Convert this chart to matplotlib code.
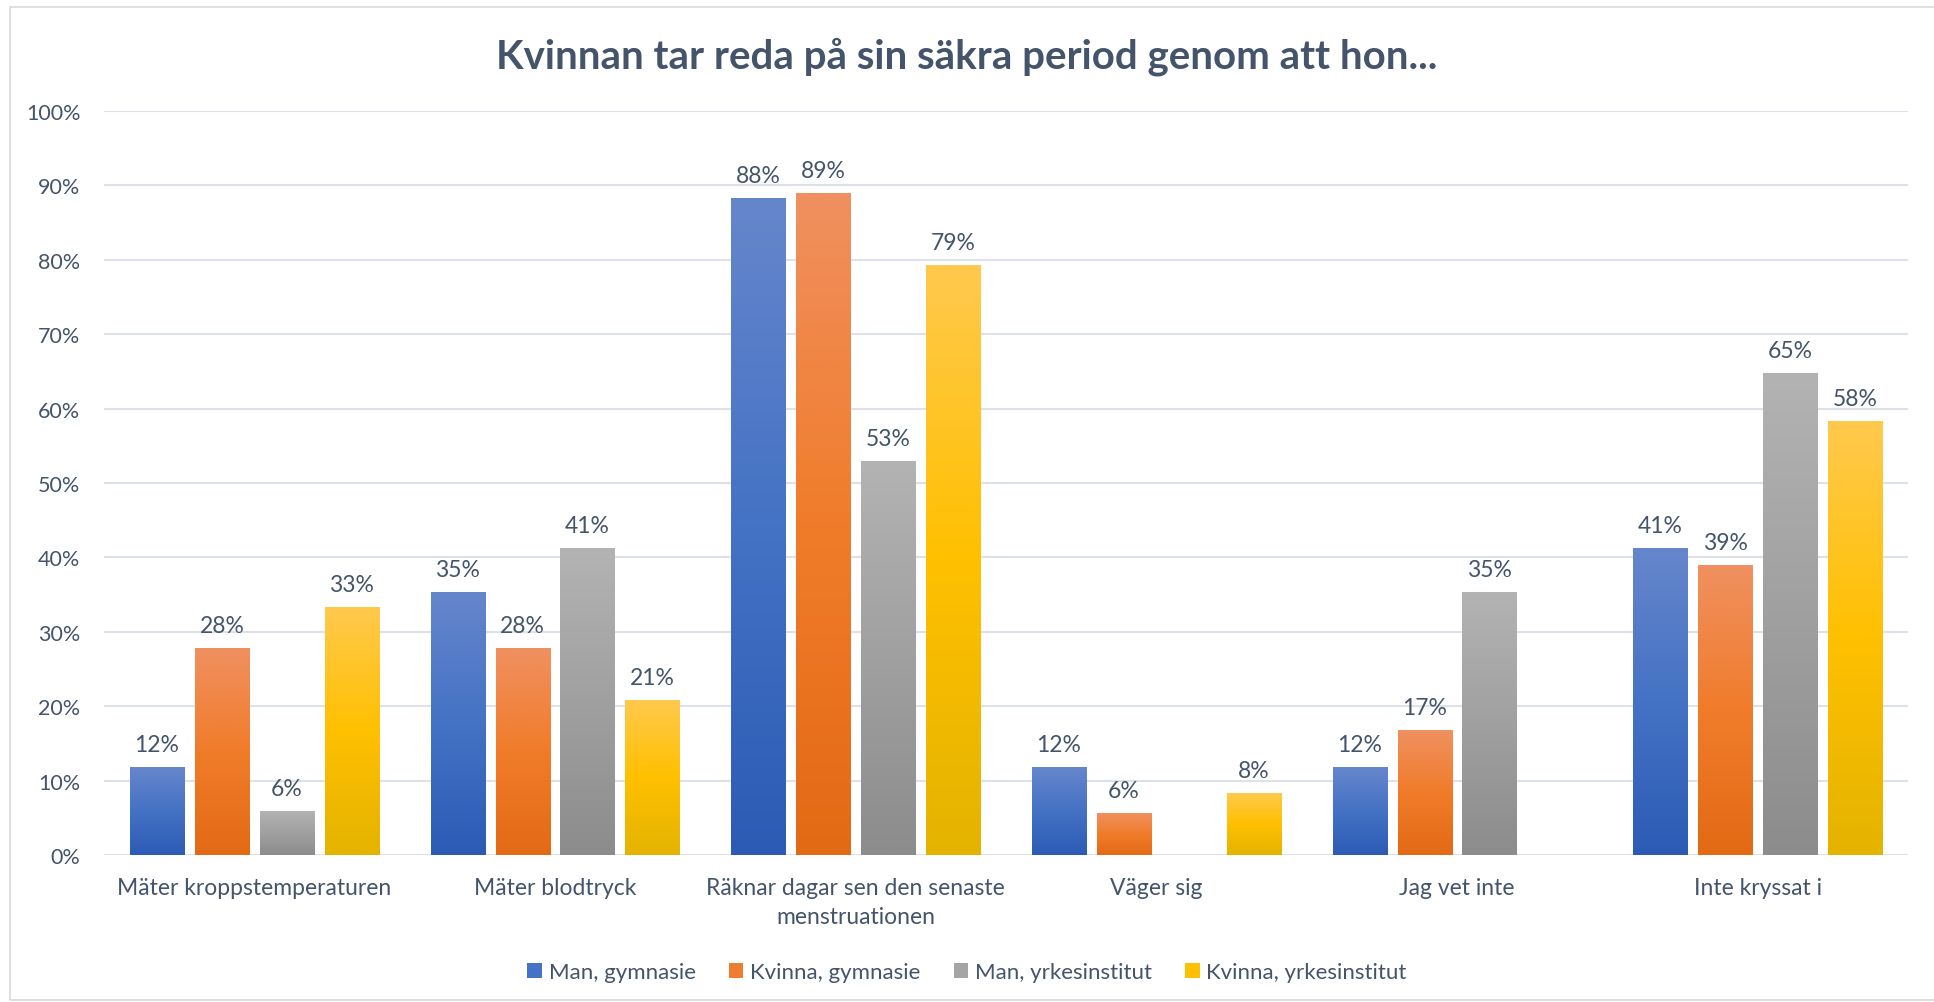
import numpy as np
import matplotlib.pyplot as plt
from matplotlib.colors import LinearSegmentedColormap
from matplotlib.patches import Patch, Rectangle

plt.rcParams['font.family'] = ['Lato', 'DejaVu Sans']

categories = ["Mäter kroppstemperaturen", "Mäter blodtryck",
              "Räknar dagar sen den senaste\nmenstruationen", "Väger sig",
              "Jag vet inte", "Inte kryssat i"]
series = ["Man, gymnasie", "Kvinna, gymnasie", "Man, yrkesinstitut", "Kvinna, yrkesinstitut"]
man_gymnasie = [11.7, 35.3, 88.2, 11.7, 11.7, 41.2]
kvinna_gymnasie = [27.8, 27.8, 88.9, 5.6, 16.7, 38.9]
man_yrkes = [5.9, 41.2, 52.9, None, 35.3, 64.7]
kvinna_yrkes = [33.3, 20.8, 79.2, 8.3, None, 58.3]
values = [man_gymnasie, kvinna_gymnasie, man_yrkes, kvinna_yrkes]

# top, middle, bottom colours of the gradient fill
grads = [("#6686cc", "#4472c4", "#2c5bb5"),
         ("#f09060", "#f07c2a", "#e36a15"),
         ("#b3b3b3", "#a0a0a0", "#8c8c8c"),
         ("#ffc94d", "#ffc000", "#e4b300")]
solid = ["#4472c4", "#ed7d31", "#a5a5a5", "#ffc000"]
txt = "#44546a"

fig = plt.figure(figsize=(19.34, 10.03), dpi=100)
fig.patches.append(Rectangle((0.005, 0.002), 1.2, 0.99, transform=fig.transFigure,
                             fill=False, edgecolor="#d9d9d9", linewidth=1.2))
ax = fig.add_axes([0.0538, 0.1466, 0.9328, 0.7417])

x = np.arange(len(categories))
w = 0.18
step = 0.216
for i, vals in enumerate(values):
    cmap = LinearSegmentedColormap.from_list("g%d" % i, grads[i][::-1])
    grad = np.linspace(1, 0, 256).reshape(-1, 1)
    for j, v in enumerate(vals):
        if v is None:
            continue
        xc = x[j] + (i - 1.5) * step
        ax.imshow(grad, cmap=cmap, extent=(xc - w / 2, xc + w / 2, 0, v),
                  aspect='auto', zorder=3, interpolation='bilinear')
        ax.annotate("%d%%" % round(v), (xc, v), xytext=(0, 9), textcoords='offset points',
                    ha='center', va='bottom', fontsize=16.5, color=txt)

ax.set_xlim(-0.5, len(categories) - 0.5)
ax.set_ylim(0, 100)
ax.set_yticks(range(0, 101, 10))
ax.set_yticklabels(["%d%%" % t for t in range(0, 101, 10)])
ax.set_xticks(x)
ax.set_xticklabels(categories, linespacing=1.45)
ax.tick_params(axis='x', length=0, labelsize=16.5, labelcolor=txt, pad=16)
ax.tick_params(axis='y', length=0, labelsize=15.5, labelcolor=txt, pad=17)
ax.grid(axis='y', color="#dde2ea", linewidth=1.5)
ax.set_axisbelow(True)
for s in ax.spines.values():
    s.set_visible(False)

fig.text(0.5, 0.943, "Kvinnan tar reda på sin säkra period genom att hon...",
         ha='center', va='center', fontsize=29, fontweight='bold', color=txt)

handles = [Patch(facecolor=c, edgecolor='none') for c in solid]
fig.legend(handles, series, loc='center', bbox_to_anchor=(0.5, 0.03), ncol=4, frameon=False,
           fontsize=16, labelcolor=txt, handlelength=0.65, handleheight=0.65,
           handletextpad=0.3, columnspacing=1.5)

plt.savefig("out.png")
